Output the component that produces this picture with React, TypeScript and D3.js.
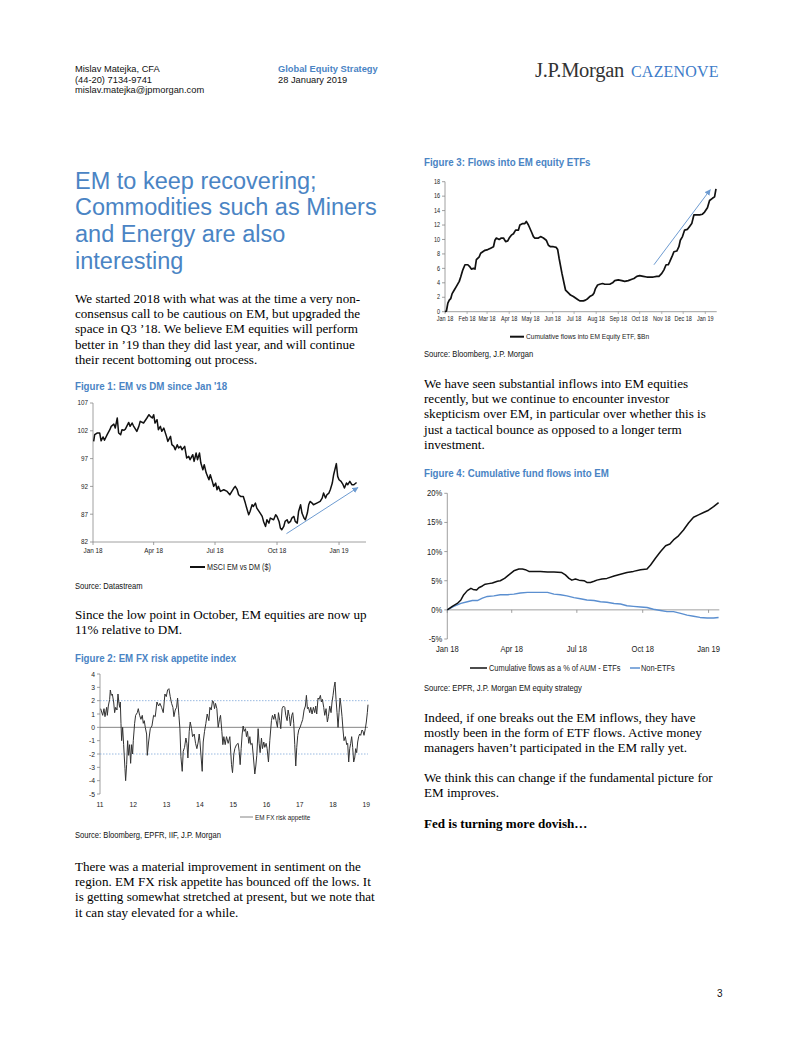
import React from 'react';
import * as d3 from 'd3';

// ---------- Figure 1: MSCI EM vs DM ($), day offsets from 1 Jan 2018 ----------
const emdmDays = [1, 2.5, 6, 10, 12, 15, 17, 21, 25, 27, 31, 33, 36, 38, 41, 43, 46, 48, 53, 55, 58, 60, 65, 68, 70, 75, 80, 83, 85, 88, 90, 92, 95, 97, 100, 102, 105, 109, 111, 115, 117, 120, 122, 125, 127, 130, 132, 136, 139, 142, 144, 148, 150, 153, 155, 158, 160, 163, 165, 168, 172, 174, 177, 179, 182, 184, 186, 189, 194, 199, 203, 206, 209, 211, 214, 216, 219, 223, 226, 228, 231, 233, 236, 238, 241, 243, 248, 251, 253, 256, 258, 261, 263, 268, 271, 273, 276, 278, 280, 283, 285, 288, 290, 293, 295, 298, 300, 303, 305, 308, 310, 313, 315, 318, 320, 322, 325, 327, 332, 337, 340, 342, 345, 347, 350, 352, 355, 357, 360, 361, 363, 365, 368, 371, 373, 376, 378, 381, 384, 387, 391];
const emdmValues = [100.1, 101.3, 101.6, 101.6, 100.2, 100.9, 100.3, 101.3, 102.2, 102.8, 103.2, 102.5, 104.3, 101.6, 101.3, 102.2, 102.1, 102.3, 103.5, 102.8, 103.4, 102.9, 101.9, 102.8, 103.7, 103.4, 104.3, 104.9, 104.6, 104.3, 104.9, 103.4, 104.0, 102.2, 102.8, 101.9, 102.5, 101.0, 100.1, 101.0, 99.5, 99.2, 98.6, 99.5, 98.9, 99.2, 98.6, 99.2, 97.1, 97.4, 96.8, 97.7, 96.5, 98.0, 96.8, 98.0, 96.2, 95.0, 95.9, 94.4, 93.2, 94.1, 92.9, 92.0, 92.6, 91.4, 92.0, 91.1, 91.4, 91.1, 90.5, 91.1, 91.7, 92.0, 91.4, 90.5, 90.2, 90.2, 89.0, 88.1, 86.9, 87.5, 88.7, 88.4, 89.0, 88.1, 87.2, 86.6, 85.7, 84.8, 86.0, 85.4, 86.3, 86.0, 86.9, 86.6, 85.7, 84.5, 84.2, 84.8, 85.7, 86.0, 85.4, 85.7, 86.3, 86.6, 85.7, 85.4, 87.5, 88.7, 87.2, 86.3, 86.0, 87.2, 88.7, 89.3, 89.0, 88.7, 89.0, 89.3, 89.9, 90.8, 89.9, 90.5, 90.8, 91.4, 92.6, 94.1, 95.6, 96.1, 93.8, 93.2, 92.9, 92.3, 91.7, 92.6, 92.3, 92.9, 92.3, 92.3, 92.7];
const fig1YTicks = [82, 87, 92, 97, 102, 107];
const fig1XTickLabels = ['Jan 18', 'Apr 18', 'Jul 18', 'Oct 18', 'Jan 19'];
const fig1XTickDays = [0, 90, 181, 273, 365];
const fig1ArrowDays = [287, 393];
const fig1ArrowValues = [83.5, 91.8];

// ---------- Figure 2: EM FX risk appetite (decimal years) ----------
const fxYears = [2011.02, 2011.08, 2011.12, 2011.15, 2011.2, 2011.22, 2011.25, 2011.29, 2011.31, 2011.34, 2011.37, 2011.41, 2011.44, 2011.47, 2011.51, 2011.54, 2011.57, 2011.59, 2011.61, 2011.63, 2011.65, 2011.68, 2011.71, 2011.75, 2011.77, 2011.8, 2011.83, 2011.86, 2011.89, 2011.92, 2011.95, 2011.98, 2012.0, 2012.04, 2012.07, 2012.12, 2012.15, 2012.19, 2012.23, 2012.27, 2012.3, 2012.33, 2012.36, 2012.4, 2012.42, 2012.46, 2012.51, 2012.56, 2012.61, 2012.66, 2012.71, 2012.76, 2012.8, 2012.85, 2012.9, 2012.95, 2012.99, 2013.03, 2013.07, 2013.11, 2013.15, 2013.19, 2013.22, 2013.26, 2013.3, 2013.33, 2013.37, 2013.4, 2013.43, 2013.47, 2013.5, 2013.54, 2013.58, 2013.61, 2013.64, 2013.68, 2013.71, 2013.75, 2013.78, 2013.83, 2013.87, 2013.91, 2013.95, 2013.98, 2014.0, 2014.03, 2014.07, 2014.1, 2014.14, 2014.18, 2014.22, 2014.27, 2014.3, 2014.34, 2014.38, 2014.41, 2014.44, 2014.47, 2014.51, 2014.55, 2014.59, 2014.62, 2014.66, 2014.69, 2014.72, 2014.76, 2014.8, 2014.85, 2014.9, 2014.95, 2014.98, 2015.02, 2015.05, 2015.1, 2015.15, 2015.18, 2015.21, 2015.24, 2015.27, 2015.3, 2015.33, 2015.37, 2015.4, 2015.43, 2015.47, 2015.5, 2015.53, 2015.57, 2015.61, 2015.65, 2015.68, 2015.71, 2015.75, 2015.78, 2015.81, 2015.85, 2015.88, 2015.92, 2015.95, 2015.99, 2016.02, 2016.06, 2016.1, 2016.15, 2016.18, 2016.22, 2016.25, 2016.29, 2016.33, 2016.36, 2016.4, 2016.43, 2016.47, 2016.51, 2016.55, 2016.58, 2016.62, 2016.65, 2016.69, 2016.72, 2016.76, 2016.79, 2016.82, 2016.85, 2016.88, 2016.91, 2016.94, 2016.97, 2017.01, 2017.05, 2017.09, 2017.13, 2017.17, 2017.2, 2017.23, 2017.26, 2017.3, 2017.33, 2017.37, 2017.41, 2017.45, 2017.48, 2017.51, 2017.55, 2017.58, 2017.62, 2017.65, 2017.68, 2017.72, 2017.75, 2017.79, 2017.83, 2017.86, 2017.9, 2017.94, 2017.97, 2018.0, 2018.03, 2018.06, 2018.09, 2018.12, 2018.15, 2018.18, 2018.21, 2018.24, 2018.27, 2018.3, 2018.33, 2018.37, 2018.41, 2018.44, 2018.47, 2018.5, 2018.53, 2018.56, 2018.59, 2018.62, 2018.65, 2018.68, 2018.71, 2018.74, 2018.77, 2018.8, 2018.83, 2018.87, 2018.9, 2018.93, 2018.97, 2019.0, 2019.03, 2019.05];
const fxValues = [1.4, 0.9, 1.4, 0.8, 1.5, 0.9, 1.6, 2.1, 2.8, 2.4, 2.5, 1.9, 1.1, 1.5, 1.3, 2.5, 1.8, 1.5, 1.9, 0.3, -1.0, 0.0, -1.3, -3.1, -4.0, -2.8, -1.0, -2.1, -1.3, -2.7, -1.3, -2.0, -1.0, 0.3, 0.9, 1.1, 1.4, 0.9, 0.6, 0.9, 0.3, 0.5, 0.0, -0.5, -2.1, -1.1, -0.1, 0.1, 0.9, 0.8, 1.9, 1.6, 1.8, 1.5, 1.1, 2.5, 2.3, 2.8, 2.9, 2.3, 1.8, 1.5, 0.8, 1.3, 1.5, 2.2, 0.9, -0.1, -2.2, -3.3, -1.8, -1.5, -0.8, -1.2, -2.3, -0.3, 0.4, -0.1, -0.7, -0.5, -1.2, -1.6, -1.1, -0.5, -1.0, -2.0, -3.3, -1.1, -0.3, 0.3, 1.0, 0.5, 1.5, 1.3, 2.0, 1.9, 1.4, 1.8, 1.4, 0.0, 0.6, 0.9, -0.3, -1.3, -0.7, -1.3, -0.7, -1.2, -0.7, -2.8, -3.4, -2.0, -1.6, -1.3, -1.2, -1.8, -2.8, -1.6, -0.5, 0.1, -0.3, -0.1, -0.7, -0.3, -1.2, -0.7, -1.3, -1.2, -2.3, -3.5, -2.9, -2.1, -0.1, -1.2, -1.9, -0.8, -1.6, -1.1, -1.5, -1.2, -1.6, -2.6, -1.0, 0.5, 0.9, 0.6, 1.0, 0.5, 0.0, 1.1, 0.5, -0.1, 1.4, 1.6, 1.5, 0.9, 0.5, 1.3, 0.8, 0.1, 0.9, 1.1, 0.3, -1.3, -2.9, -1.5, -0.6, -0.2, 0.0, 0.3, 0.6, 1.3, 1.6, 2.4, 1.4, 1.5, 1.1, 1.5, 1.0, 1.5, 1.1, 1.6, 1.0, 2.2, 2.1, 2.4, 1.9, 2.1, 1.5, 0.9, 1.4, 0.4, 0.8, 1.6, 1.1, 1.9, 2.4, 3.0, 3.4, 2.1, 1.1, 0.0, 1.1, 2.2, 1.6, 0.8, -0.2, -1.0, -0.7, -1.3, -1.2, -2.6, -1.6, -1.2, -0.7, -1.5, -2.6, -2.3, -1.6, -1.9, -1.1, -0.7, -0.5, -0.6, -0.2, -0.3, -0.6, -0.1, 0.4, 1.1, 1.7];
const fig2YTicks = [-5, -4, -3, -2, -1, 0, 1, 2, 3, 4];
const fig2XTickYears = [2011, 2012, 2013, 2014, 2015, 2016, 2017, 2018, 2019];
const fig2XTickLabels = ['11', '12', '13', '14', '15', '16', '17', '18', '19'];
const fig2Bands = [2, -2];

// ---------- Figure 3: Cumulative flows into EM Equity ETF, $Bn ----------
const etfDays = [0, 2, 4, 6, 8, 10, 13, 16, 20, 22, 25, 28, 32, 35, 37, 40, 42, 44, 48, 50, 53, 56, 60, 64, 68, 70, 72, 76, 79, 82, 85, 88, 90, 93, 96, 99, 103, 105, 109, 112, 114, 117, 121, 124, 126, 131, 134, 138, 142, 145, 148, 152, 156, 158, 160, 164, 167, 169, 173, 176, 180, 183, 186, 189, 194, 197, 200, 203, 207, 209, 211, 214, 217, 221, 224, 228, 231, 235, 238, 243, 248, 252, 257, 262, 265, 269, 273, 278, 283, 287, 292, 297, 300, 304, 307, 310, 313, 315, 319, 321, 325, 328, 330, 333, 336, 340, 343, 346, 349, 353, 357, 361, 364, 368, 371, 375, 378, 380];
const etfValues = [0, 0.1, 1.2, 1.6, 1.8, 2.5, 3.0, 3.5, 4.2, 4.8, 5.8, 6.5, 6.5, 6.2, 5.9, 6.0, 5.9, 7.2, 7.6, 8.1, 8.3, 8.5, 8.6, 8.8, 9.0, 9.9, 10.2, 10.0, 10.2, 10.2, 9.7, 9.8, 10.2, 10.6, 10.8, 11.3, 11.3, 12.0, 12.2, 12.2, 12.5, 12.0, 11.1, 10.4, 10.2, 10.2, 10.4, 10.2, 9.9, 9.2, 9.0, 9.0, 8.9, 8.6, 7.4, 5.3, 3.9, 3.0, 2.6, 2.3, 2.1, 1.9, 1.7, 1.5, 1.5, 1.6, 1.8, 2.1, 2.3, 2.6, 3.2, 3.7, 3.8, 3.9, 3.8, 3.8, 3.8, 4.0, 4.3, 4.4, 4.3, 4.2, 4.3, 4.5, 4.6, 4.9, 5.0, 4.9, 4.8, 4.8, 4.8, 4.9, 4.9, 5.3, 5.8, 6.5, 6.5, 6.9, 7.8, 8.3, 8.4, 9.0, 9.9, 10.4, 11.3, 11.4, 11.8, 12.2, 13.4, 13.4, 13.4, 13.5, 13.8, 14.4, 15.4, 15.7, 15.9, 17.0];
const fig3YTicks = [0, 2, 4, 6, 8, 10, 12, 14, 16, 18];
const fig3XTickLabels = ['Jan 18', 'Feb 18', 'Mar 18', 'Apr 18', 'May 18', 'Jun 18', 'Jul 18', 'Aug 18', 'Sep 18', 'Oct 18', 'Nov 18', 'Dec 18', 'Jan 19'];
const fig3XTickDays = [0, 31, 59, 90, 120, 151, 181, 212, 243, 273, 304, 334, 365];
const fig3ArrowDays = [293, 372];
const fig3ArrowValues = [6.5, 16.9];

// ---------- Figure 4: Cumulative fund flows into EM (% of AUM) ----------
const etfPctDays = [0, 7, 14, 19, 23, 28, 33, 36, 41, 44, 49, 53, 58, 63, 70, 74, 80, 86, 93, 100, 105, 109, 114, 121, 130, 140, 149, 160, 165, 170, 174, 179, 184, 191, 195, 200, 205, 209, 216, 223, 233, 242, 251, 260, 270, 279, 284, 291, 298, 305, 311, 316, 323, 330, 337, 344, 351, 358, 365, 372, 379];
const etfPctValues = [0, 0.6, 1.1, 1.7, 2.6, 3.3, 3.7, 3.5, 3.4, 3.8, 4.1, 4.4, 4.5, 4.6, 4.9, 5.0, 5.4, 6.0, 6.7, 7.0, 7.0, 6.9, 6.6, 6.6, 6.6, 6.5, 6.5, 6.4, 6.0, 5.4, 5.1, 5.3, 5.1, 5.0, 4.7, 4.7, 4.9, 5.1, 5.3, 5.4, 5.8, 6.1, 6.4, 6.6, 6.9, 7.0, 7.7, 8.9, 10.0, 11.0, 11.3, 12.0, 12.7, 13.7, 14.9, 15.9, 16.3, 16.7, 17.1, 17.7, 18.4];
const nonEtfDays = [0, 9, 19, 28, 35, 42, 49, 56, 65, 74, 84, 93, 102, 112, 121, 130, 140, 149, 158, 167, 177, 186, 195, 205, 214, 223, 233, 242, 251, 260, 270, 279, 288, 298, 307, 316, 326, 335, 344, 353, 363, 372, 379];
const nonEtfValues = [0, 0.6, 1.1, 1.4, 1.6, 1.6, 2.0, 2.3, 2.4, 2.6, 2.6, 2.7, 2.9, 3.0, 3.0, 3.0, 3.0, 2.7, 2.6, 2.4, 2.1, 1.9, 1.7, 1.6, 1.4, 1.3, 1.1, 1.0, 0.7, 0.6, 0.5, 0.4, 0.1, -0.1, -0.3, -0.3, -0.6, -0.9, -1.1, -1.3, -1.4, -1.4, -1.3];
const fig4YTicks = [-5, 0, 5, 10, 15, 20];
const fig4XTickLabels = ['Jan 18', 'Apr 18', 'Jul 18', 'Oct 18', 'Jan 19'];
const fig4XTickDays = [0, 90, 181, 273, 365];

// ---------- page text ----------
const titleLines = ['EM to keep recovering;', 'Commodities such as Miners', 'and Energy are also', 'interesting'];
const para1 = ['We started 2018 with what was at the time a very non-', 'consensus call to be cautious on EM, but upgraded the', 'space in Q3 \u201918. We believe EM equities will perform', 'better in \u201919 than they did last year, and will continue', 'their recent bottoming out process.'];
const para2 = ['Since the low point in October, EM equities are now up', '11% relative to DM.'];
const para3 = ['There was a material improvement in sentiment on the', 'region. EM FX risk appetite has bounced off the lows. It', 'is getting somewhat stretched at present, but we note that', 'it can stay elevated for a while.'];
const para4 = ['We have seen substantial inflows into EM equities', 'recently, but we continue to encounter investor', 'skepticism over EM, in particular over whether this is', 'just a tactical bounce as opposed to a longer term', 'investment.'];
const para5 = ['Indeed, if one breaks out the EM inflows, they have', 'mostly been in the form of ETF flows. Active money', 'managers haven\u2019t participated in the EM rally yet.'];
const para6 = ['We think this can change if the fundamental picture for', 'EM improves.'];

const BLUE = '#4a84c4';
const ARROW = '#6d9bd1';
const SANS = 'Liberation Sans, Arial, sans-serif';
const SERIF = 'Liberation Serif, Times New Roman, serif';
const NARROW_SCALE = 0.845;

const base = new Date(2018, 0, 1).getTime();
const dayDate = (d: number) => new Date(base + d * 86400000);

// condensed (Arial Narrow-like) text via horizontal scaling
function NT({ x, y, size, anchor = 'start', weight = 'normal', fill = '#222', dy, children }: any) {
  return (
    <text transform={`translate(${x},${y}) scale(${NARROW_SCALE},1)`} textAnchor={anchor} fontFamily={SANS} fontSize={size} fontWeight={weight} fill={fill} dy={dy}>
      {children}
    </text>
  );
}

function Para({ lines, x, y, dy = 15.4, size = 13.1, weight = 'normal' }: any) {
  return (
    <text fontFamily={SERIF} fontSize={size} fontWeight={weight} fill="#000">
      {lines.map((l: string, i: number) => (
        <tspan key={i} x={x} y={y + i * dy}>{l}</tspan>
      ))}
    </text>
  );
}

function YAxis({ x, scale, ticks, fmt, size, y0, y1 }: any) {
  return (
    <g>
      <line x1={x} x2={x} y1={y0} y2={y1} stroke="#888" strokeWidth={0.8} />
      {ticks.map((t: number) => (
        <g key={t}>
          <line x1={x - 3} x2={x} y1={scale(t)} y2={scale(t)} stroke="#888" strokeWidth={0.8} />
          <NT x={x - 5} y={scale(t)} dy="0.33em" anchor="end" size={size}>{fmt(t)}</NT>
        </g>
      ))}
    </g>
  );
}

function Fig1() {
  const x = d3.scaleTime().domain([dayDate(0), dayDate(405)]).range([93, 366]);
  const y = d3.scaleLinear().domain([82, 107]).range([542, 403]);
  const pts = emdmDays.map((d, i) => [x(dayDate(d)), y(emdmValues[i])] as [number, number]);
  const line = d3.line();
  return (
    <g>
      <YAxis x={93} scale={y} ticks={fig1YTicks} fmt={(t: number) => String(t)} size={7.5} y0={403} y1={542} />
      <line x1={93} x2={366} y1={542} y2={542} stroke="#888" strokeWidth={0.8} />
      {fig1XTickDays.map((d, i) => (
        <g key={d}>
          <line x1={x(dayDate(d))} x2={x(dayDate(d))} y1={542} y2={545} stroke="#888" strokeWidth={0.8} />
          <NT x={x(dayDate(d))} y={553} anchor="middle" size={7.5}>{fig1XTickLabels[i]}</NT>
        </g>
      ))}
      <path d={line(pts) || ''} fill="none" stroke="#111" strokeWidth={1.5} strokeLinejoin="round" />
      <line x1={x(dayDate(fig1ArrowDays[0]))} y1={y(fig1ArrowValues[0])} x2={x(dayDate(fig1ArrowDays[1]))} y2={y(fig1ArrowValues[1])} stroke={ARROW} strokeWidth={1} markerEnd="url(#arrowhead)" />
      <line x1={190} x2={205} y1={567} y2={567} stroke="#111" strokeWidth={2} />
      <NT x={207} y={570} size={8.5}>MSCI EM vs DM ($)</NT>
    </g>
  );
}

function Fig2() {
  const x = d3.scaleLinear().domain([2011, 2019.05]).range([100, 368]);
  const y = d3.scaleLinear().domain([-5, 4]).range([794, 674]);
  const line = d3.line<number>().x((d, i) => x(fxYears[i])).y((d) => y(d));
  return (
    <g>
      <YAxis x={100} scale={y} ticks={fig2YTicks} fmt={(t: number) => String(t)} size={8} y0={674} y1={794} />
      {fig2Bands.map((b) => (
        <line key={b} x1={100} x2={368} y1={y(b)} y2={y(b)} stroke="#7fa7d8" strokeWidth={0.8} strokeDasharray="1.5,1.5" />
      ))}
      <line x1={100} x2={368} y1={y(0)} y2={y(0)} stroke="#666" strokeWidth={0.8} />
      {fig2XTickYears.map((yr, i) => (
        <NT key={yr} x={x(yr)} y={807} anchor="middle" size={8}>{fig2XTickLabels[i]}</NT>
      ))}
      <path d={line(fxValues) || ''} fill="none" stroke="#333" strokeWidth={1} strokeLinejoin="round" />
      <line x1={240} x2={253} y1={817} y2={817} stroke="#666" strokeWidth={0.8} />
      <NT x={255} y={819.5} size={7.5}>EM FX risk appetite</NT>
    </g>
  );
}

function Fig3() {
  const x = d3.scaleTime().domain([dayDate(0), dayDate(381)]).range([445, 716.7]);
  const y = d3.scaleLinear().domain([0, 18]).range([311.7, 181.7]);
  const line = d3.line<number>().x((d, i) => x(dayDate(etfDays[i]))).y((d) => y(d));
  return (
    <g>
      <YAxis x={445} scale={y} ticks={fig3YTicks} fmt={(t: number) => String(t)} size={6.5} y0={181.7} y1={311.7} />
      <line x1={445} x2={716.7} y1={311.7} y2={311.7} stroke="#888" strokeWidth={0.8} />
      {fig3XTickDays.map((d, i) => (
        <g key={d}>
          <line x1={x(dayDate(d))} x2={x(dayDate(d))} y1={311.7} y2={314} stroke="#888" strokeWidth={0.6} />
          <NT x={x(dayDate(d))} y={321} anchor="middle" size={6.5}>{fig3XTickLabels[i]}</NT>
        </g>
      ))}
      <path d={line(etfValues) || ''} fill="none" stroke="#111" strokeWidth={1.7} strokeLinejoin="round" />
      <line x1={x(dayDate(fig3ArrowDays[0]))} y1={y(fig3ArrowValues[0])} x2={x(dayDate(fig3ArrowDays[1]))} y2={y(fig3ArrowValues[1])} stroke={ARROW} strokeWidth={1} markerEnd="url(#arrowhead)" />
      <line x1={510} x2={524} y1={336.7} y2={336.7} stroke="#111" strokeWidth={2} />
      <NT x={526} y={339.3} size={7.8}>Cumulative flows into EM Equity ETF, $Bn</NT>
    </g>
  );
}

function Fig4() {
  const x = d3.scaleTime().domain([dayDate(0), dayDate(380)]).range([447.3, 719.3]);
  const y = d3.scaleLinear().domain([-5, 20]).range([639, 493.3]);
  const lineE = d3.line<number>().x((d, i) => x(dayDate(etfPctDays[i]))).y((d) => y(d));
  const lineN = d3.line<number>().x((d, i) => x(dayDate(nonEtfDays[i]))).y((d) => y(d));
  return (
    <g>
      <YAxis x={447.3} scale={y} ticks={fig4YTicks} fmt={(t: number) => `${t}%`} size={9} y0={493.3} y1={639} />
      <line x1={447.3} x2={719.3} y1={y(0)} y2={y(0)} stroke="#888" strokeWidth={0.8} />
      {fig4XTickDays.map((d, i) => (
        <g key={d}>
          <line x1={x(dayDate(d))} x2={x(dayDate(d))} y1={y(0)} y2={y(0) + 3} stroke="#888" strokeWidth={0.8} />
          <NT x={x(dayDate(d))} y={651.5} anchor="middle" size={9}>{fig4XTickLabels[i]}</NT>
        </g>
      ))}
      <path d={lineN(nonEtfValues) || ''} fill="none" stroke="#5b8fd0" strokeWidth={1.4} strokeLinejoin="round" />
      <path d={lineE(etfPctValues) || ''} fill="none" stroke="#111" strokeWidth={1.5} strokeLinejoin="round" />
      <line x1={470} x2={487} y1={668} y2={668} stroke="#111" strokeWidth={1.5} />
      <NT x={489} y={671} size={8.8}>Cumulative flows as a % of AUM - ETFs</NT>
      <line x1={630} x2={640} y1={668} y2={668} stroke="#5b8fd0" strokeWidth={1.5} />
      <NT x={641} y={671} size={8.8}>Non-ETFs</NT>
    </g>
  );
}

export default function App() {
  return (
    <svg width={802} height={1037} viewBox="0 0 802 1037" style={{ position: 'absolute', left: 0, top: 0, background: '#fff' }}>
      <defs>
        <marker id="arrowhead" viewBox="0 0 10 10" refX="9" refY="5" markerWidth="6" markerHeight="6" orient="auto">
          <path d="M0,0 L10,5 L0,10 z" fill={ARROW} />
        </marker>
      </defs>
      <rect x={0} y={0} width={802} height={1037} fill="#fff" />
      {/* header */}
      <text fontFamily={SANS} fontSize={9.3} fill="#111">
        <tspan x={75} y={71.5}>Mislav Matejka, CFA</tspan>
        <tspan x={75} y={82.5}>(44-20) 7134-9741</tspan>
        <tspan x={75} y={92.5}>mislav.matejka@jpmorgan.com</tspan>
      </text>
      <text x={278} y={71.5} fontFamily={SANS} fontSize={9.3} fontWeight="bold" fill={BLUE}>Global Equity Strategy</text>
      <text x={278} y={82.5} fontFamily={SANS} fontSize={9.3} fill="#111">28 January 2019</text>
      <text x={535} y={77} fontFamily={SERIF} fontSize={20.5} fill="#333" letterSpacing={-0.3}>J.P.Morgan</text>
      <text x={631} y={77} fontFamily={SERIF} fontSize={16} fill="#3d7cc9" letterSpacing={0.2}>CAZENOVE</text>

      {/* title */}
      <text fontFamily={SANS} fontSize={23.5} fill={BLUE}>
        {titleLines.map((l, i) => (
          <tspan key={i} x={75} y={188.5 + i * 26.7}>{l}</tspan>
        ))}
      </text>
      <Para lines={para1} x={75} y={302.5} />

      <NT x={75} y={390} size={11.5} weight="bold" fill={BLUE}>Figure 1: EM vs DM since Jan '18</NT>
      <Fig1 />
      <NT x={75} y={589} size={9} fill="#111">Source: Datastream</NT>
      <Para lines={para2} x={75} y={618.5} />

      <NT x={75} y={662} size={11.5} weight="bold" fill={BLUE}>Figure 2: EM FX risk appetite index</NT>
      <Fig2 />
      <NT x={75} y={838} size={9} fill="#111">Source: Bloomberg, EPFR, IIF, J.P. Morgan</NT>
      <Para lines={para3} x={75} y={870.5} />

      <NT x={424} y={166} size={11.5} weight="bold" fill={BLUE}>Figure 3: Flows into EM equity ETFs</NT>
      <Fig3 />
      <NT x={424} y={357} size={9} fill="#111">Source: Bloomberg, J.P. Morgan</NT>
      <Para lines={para4} x={424} y={387.5} />

      <NT x={424} y={477} size={11.5} weight="bold" fill={BLUE}>Figure 4: Cumulative fund flows into EM</NT>
      <Fig4 />
      <NT x={424} y={691} size={9} fill="#111">Source: EPFR, J.P. Morgan EM equity strategy</NT>
      <Para lines={para5} x={424} y={721.5} />
      <Para lines={para6} x={424} y={781.5} dy={15} />
      <Para lines={['Fed is turning more dovish\u2026']} x={424} y={827.5} weight="bold" />

      <text x={717} y={997} fontFamily={SANS} fontSize={10} fill="#111">3</text>
    </svg>
  );
}
